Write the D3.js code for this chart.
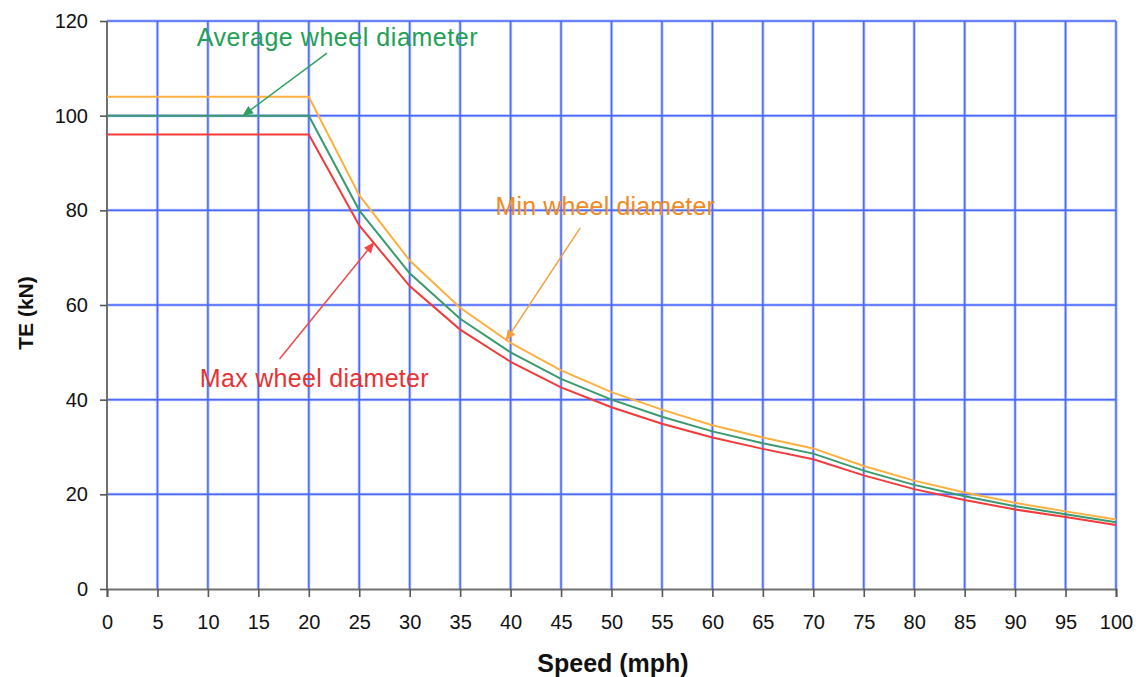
<!DOCTYPE html>
<html><head><meta charset="utf-8">
<script src="https://cdn.jsdelivr.net/npm/d3@7"></script>
<style>html,body{margin:0;padding:0;background:#fff;}svg{display:block;}</style>
</head><body>
<svg id="chart" width="1140" height="677"></svg>
<script>
const speeds = [0,5,10,15,20,25,30,35,40,45,50,55,60,65,70,75,80,85,90,95,100];
const avgWheel = [100,100,100,100,100,80,66.7,57.1,50,44.4,40,36.4,33.3,30.8,28.6,25.0,22.0,19.6,17.5,15.8,14.1];
const maxWheel = [96,96,96,96,96,76.8,64.0,54.8,48,42.6,38.4,34.9,32.0,29.6,27.4,24.0,21.1,18.8,16.8,15.2,13.5];
const minWheel = [104,104,104,104,104,83.2,69.4,59.4,52,46.2,41.6,37.9,34.6,32.0,29.7,26.0,22.9,20.4,18.2,16.4,14.7];
const xTicks = [0,5,10,15,20,25,30,35,40,45,50,55,60,65,70,75,80,85,90,95,100];
const yTicks = [0,20,40,60,80,100,120];
const xTitle = "Speed (mph)";
const yTitle = "TE (kN)";
const annotations = [
  {text:"Average wheel diameter", color:"#22a055", arrow:"#2ea060", tx:8.9, ty:114.7, x1:21.8, y1:113.2, x2:13.4, y2:99.9, ls:0.55},
  {text:"Min wheel diameter", color:"#f08a22", arrow:"#f5a040", tx:38.5, ty:79.0, x1:46.9, y1:76.3, x2:39.5, y2:52.4, ls:0.15},
  {text:"Max wheel diameter", color:"#e83232", arrow:"#f04848", tx:9.2, ty:42.7, x1:17.1, y1:48.6, x2:26.5, y2:73.3, ls:0.3}
];

const svg = d3.select("#chart");
const x = d3.scaleLinear().domain([0,100]).range([107,1116]);
const y = d3.scaleLinear().domain([0,120]).range([589,21]);

// grid
const grid = svg.append("g");
grid.selectAll("line.v").data(xTicks.filter(d=>d>0)).enter().append("line")
  .attr("x1",d=>x(d)).attr("x2",d=>x(d)).attr("y1",y(0)).attr("y2",y(120))
  .attr("stroke","#8fa2ff").attr("stroke-width",3.2).attr("opacity",0.55);
grid.selectAll("line.h").data(yTicks.filter(d=>d>0)).enter().append("line")
  .attr("y1",d=>y(d)).attr("y2",d=>y(d)).attr("x1",x(0)).attr("x2",x(100))
  .attr("stroke","#8fa2ff").attr("stroke-width",3.2).attr("opacity",0.55);
grid.selectAll("line.v2").data(xTicks.filter(d=>d>0)).enter().append("line")
  .attr("x1",d=>x(d)).attr("x2",d=>x(d)).attr("y1",y(0)).attr("y2",y(120))
  .attr("stroke","#4a6aff").attr("stroke-width",1.5);
grid.selectAll("line.h2").data(yTicks.filter(d=>d>0)).enter().append("line")
  .attr("y1",d=>y(d)).attr("y2",d=>y(d)).attr("x1",x(0)).attr("x2",x(100))
  .attr("stroke","#4a6aff").attr("stroke-width",1.5);

// axes
const xAxis = d3.axisBottom(x).tickValues(xTicks).tickSize(8).tickPadding(20).tickFormat(d3.format("d"));
const yAxis = d3.axisLeft(y).tickValues(yTicks).tickSize(7).tickPadding(12).tickFormat(d3.format("d"));
const gx = svg.append("g").attr("transform",`translate(0,${y(0)})`).call(xAxis);
const gy = svg.append("g").attr("transform",`translate(${x(0)},0)`).call(yAxis);
[gx,gy].forEach(g=>{
  g.select(".domain").attr("stroke","#707070").attr("stroke-width",2);
  g.selectAll(".tick line").attr("stroke","#555").attr("stroke-width",1.6);
  g.selectAll(".tick text").attr("fill","#111").attr("font-family","Liberation Sans, Arial, sans-serif").attr("font-size",20);
});
gx.selectAll(".tick text").attr("dy","0.6em");
gy.select(".domain").attr("d",`M-0,${y(0)}V${y(120)}`);

// lines
const line = d3.line().x((d,i)=>x(speeds[i])).y(d=>y(d));
[[minWheel,"#fbb040"],[avgWheel,"#3a9a6e"],[maxWheel,"#f23a3a"]].forEach(([vals,c])=>{
  svg.append("path").datum(vals).attr("d",line).attr("fill","none").attr("stroke",c).attr("stroke-width",2);
});

// annotations
annotations.forEach(a=>{
  const x1=x(a.x1), y1=y(a.y1), x2=x(a.x2), y2=y(a.y2);
  const ang = Math.atan2(y2-y1,x2-x1);
  const L=11, W=4.5;
  const bx = x2 - L*Math.cos(ang), by = y2 - L*Math.sin(ang);
  svg.append("line").attr("x1",x1).attr("y1",y1).attr("x2",bx).attr("y2",by)
    .attr("stroke",a.arrow).attr("stroke-width",1.5);
  const p = [[x2,y2],[bx+W*Math.sin(ang),by-W*Math.cos(ang)],[bx-W*Math.sin(ang),by+W*Math.cos(ang)]];
  svg.append("path").attr("d","M"+p.map(q=>q.join(",")).join("L")+"Z").attr("fill",a.arrow);
  svg.append("text").attr("x",x(a.tx)).attr("y",y(a.ty)).text(a.text)
    .attr("fill",a.color).attr("font-family","Liberation Sans, Arial, sans-serif").attr("font-size",25)
    .attr("letter-spacing",a.ls);
});

// titles
svg.append("text").attr("x",613).attr("y",672).attr("text-anchor","middle").text(xTitle)
  .attr("font-family","Liberation Sans, Arial, sans-serif").attr("font-weight","bold").attr("font-size",25).attr("fill","#111");
svg.append("text").attr("transform","translate(33,313) rotate(-90)").attr("text-anchor","middle").text(yTitle)
  .attr("font-family","Liberation Sans, Arial, sans-serif").attr("font-weight","bold").attr("font-size",21).attr("fill","#111");
</script>
</body></html>
